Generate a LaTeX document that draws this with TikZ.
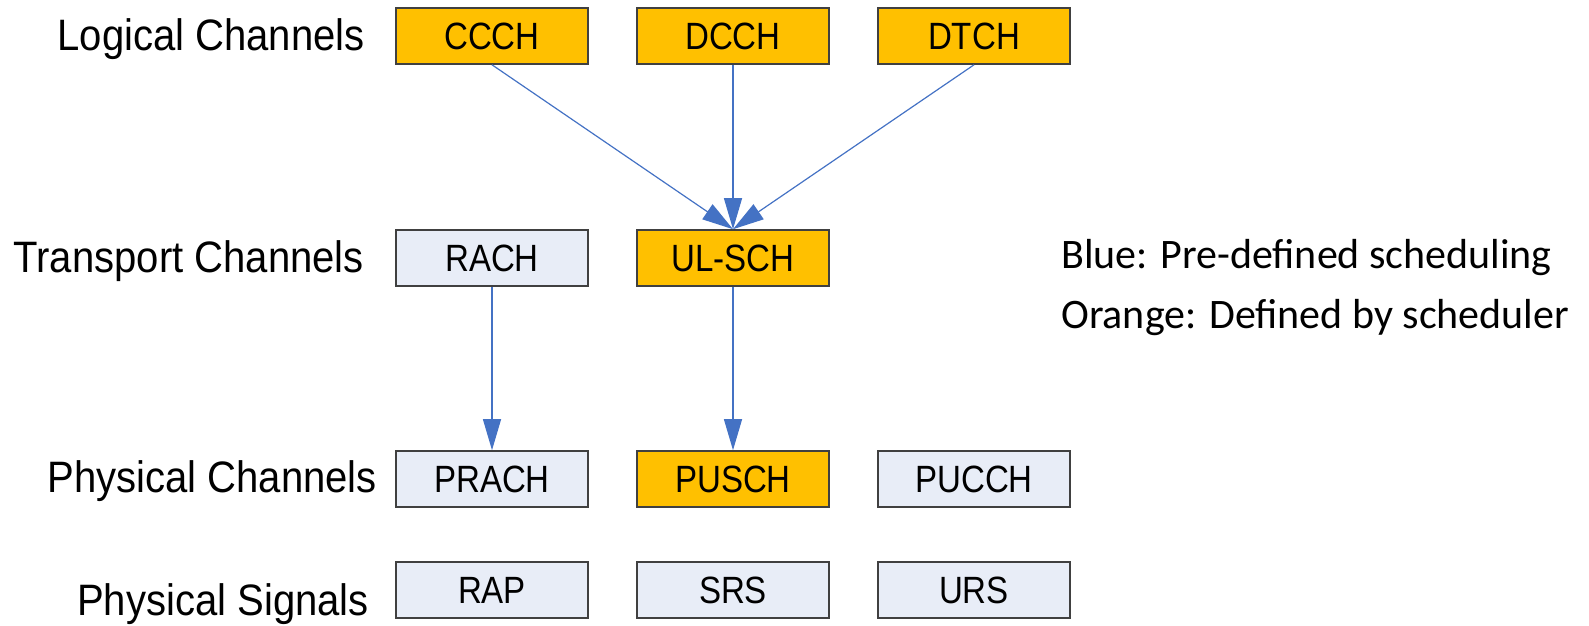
\documentclass[tikz,border=0pt]{standalone}
\usepackage{fontspec}
\setmainfont{Liberation Sans}
\newfontfamily\boxfont[FakeStretch=0.87]{Liberation Sans}
\newfontfamily\rowfont[FakeStretch=0.91]{Liberation Sans}
\newfontfamily\legendfont{Carlito}
\usetikzlibrary{arrows.meta}
\definecolor{chOrange}{HTML}{FFC000}
\definecolor{chBlue}{HTML}{E8EDF7}
\definecolor{chEdge}{HTML}{404040}
\definecolor{chArrow}{HTML}{4472C4}
\tikzset{
  chbox/.style    ={draw=chEdge,line width=1.6pt,minimum width=192pt,minimum height=56pt,
                    inner sep=0pt,font=\boxfont\fontsize{38}{44}\selectfont},
  sched/.style    ={chbox,fill=chOrange},
  fixed/.style    ={chbox,fill=chBlue},
  rowlbl/.style   ={anchor=base east,inner sep=0pt,font=\rowfont\fontsize{44}{50}\selectfont},
  legend/.style   ={anchor=base west,inner sep=0pt,font=\legendfont\fontsize{42}{48}\selectfont},
  flow/.style     ={-{Triangle[length=31pt,width=18pt]},chArrow,line width=1.2pt},
}
\begin{document}
\begin{tikzpicture}[x=1pt,y=-1pt]
\useasboundingbox (0,0) rectangle (1589,625);
%% row labels
\node[rowlbl] (lLog)  at (365,50)  {Logical Channels};
\node[rowlbl] (lTra)  at (364,272) {Transport Channels};
\node[rowlbl] (lPhC)  at (377,492) {Physical Channels};
\node[rowlbl] (lPhS)  at (369,615) {Physical Signals};
%% logical
\node[sched] (ccch) at (492,36) {CCCH};
\node[sched] (dcch) at (733,36) {DCCH};
\node[sched] (dtch) at (974,36) {DTCH};
%% transport
\node[fixed] (rach)  at (492,258) {RACH};
\node[sched] (ulsch) at (733,258) {UL-SCH};
%% physical channels
\node[fixed] (prach) at (492,479) {PRACH};
\node[sched] (pusch) at (733,479) {PUSCH};
\node[fixed] (pucch) at (974,479) {PUCCH};
%% physical signals
\node[fixed] (rap) at (492,590) {RAP};
\node[fixed] (srs) at (733,590) {SRS};
\node[fixed] (urs) at (974,590) {URS};
%% mapping
\foreach \k in {ccch,dcch,dtch} { \draw[flow] (\k.south) -- (ulsch.north); }
\draw[flow] (rach.south) -- (prach.north);
\draw[flow] (ulsch.south) -- (pusch.north);
%% legend
\node[legend] (lgBlue)   at (1061,268) {Blue: Pre-defined scheduling};
\node[legend] (lgOrange) at (1061,328) {Orange: Defined by scheduler};
\end{tikzpicture}
\end{document}
